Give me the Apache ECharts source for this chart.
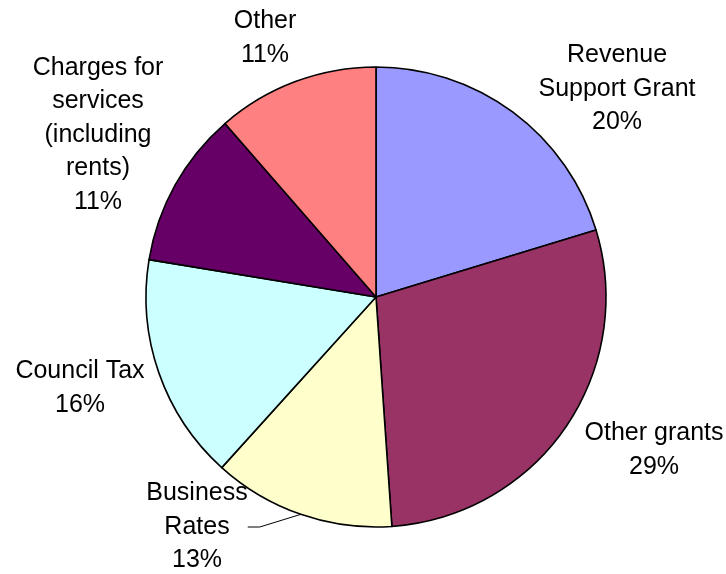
<!DOCTYPE html>
<html>
<head>
<meta charset="utf-8">
<script src="https://cdn.jsdelivr.net/npm/echarts@6/dist/echarts.min.js"></script>
<style>html,body{margin:0;padding:0;background:#fff}#c{width:726px;height:574px}</style>
</head>
<body>
<div id="c"></div>
<script>
const categories = ["Revenue\nSupport Grant", "Other grants", "Business\nRates", "Council Tax", "Charges for\nservices\n(including\nrents)", "Other"];
const values = [20.3, 28.6, 12.8, 15.9, 11.0, 11.4];
const percentLabels = ["20%", "29%", "13%", "16%", "11%", "11%"];
const colors = ["#9999FF", "#993366", "#FFFFCC", "#CCFFFF", "#660066", "#FF8080"];
// label block centres (layout only)
const labelPos = [[617, 89], [654, 450], [197, 527], [80, 388], [98, 135], [265, 38]];

const chart = echarts.init(document.getElementById('c'));
chart.setOption({
  animation: false,
  backgroundColor: '#ffffff',
  series: [{
    type: 'pie',
    center: [376, 297],
    radius: 230,
    startAngle: 90,
    clockwise: true,
    avoidLabelOverlap: false,
    itemStyle: { borderColor: '#000', borderWidth: 1.6 },
    label: {
      show: true,
      position: 'outside',
      formatter: p => p.name + '\n' + percentLabels[p.dataIndex],
      color: '#000',
      fontFamily: 'Liberation Sans, Arial, sans-serif',
      fontSize: 25,
      lineHeight: 33.5,
      align: 'center'
    },
    labelLine: { show: false, length: 8, length2: 12, lineStyle: { color: '#000', width: 1 } },
    labelLayout: function (p) {
      const pos = labelPos[p.dataIndex];
      return { x: pos[0], y: pos[1], align: 'center', verticalAlign: 'middle' };
    },
    data: categories.map((c, i) => ({
      name: c,
      value: values[i],
      itemStyle: { color: colors[i] },
      labelLine: i === 2 ? { show: true } : { show: false }
    }))
  }]
});
</script>
</body>
</html>
